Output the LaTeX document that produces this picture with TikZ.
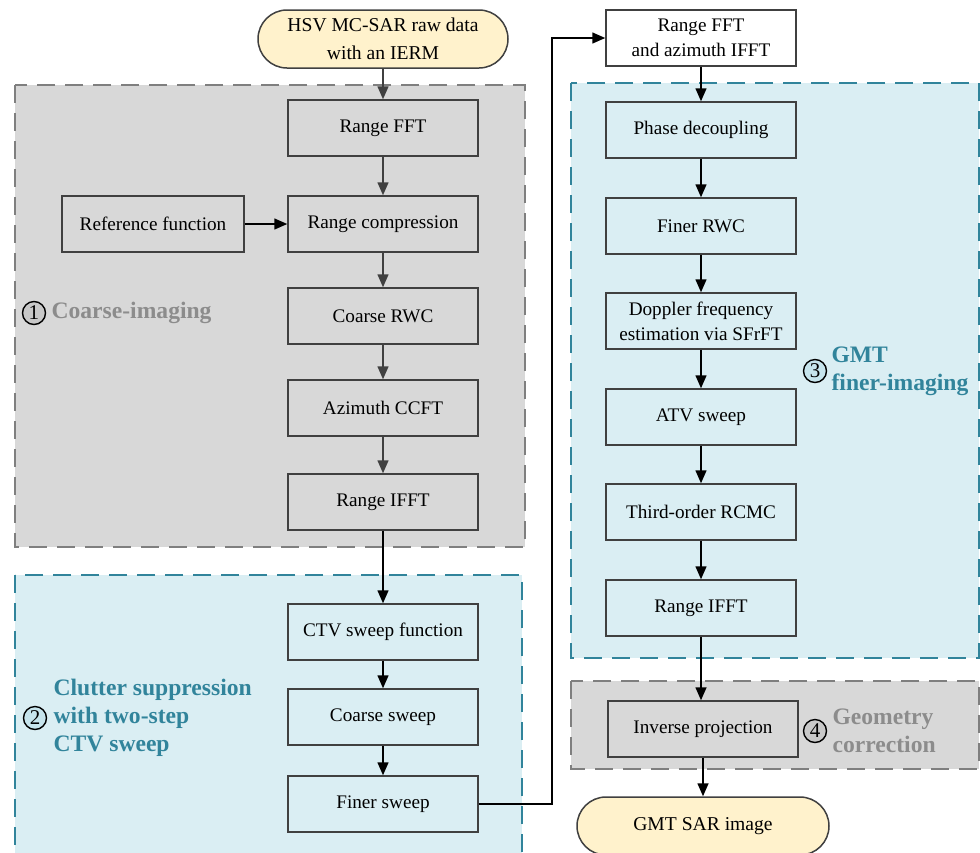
\documentclass[tikz,border=0pt]{standalone}
\usepackage{fontspec}
\setmainfont{Liberation Serif}
\usetikzlibrary{arrows.meta,positioning}

\definecolor{graybg}{HTML}{D8D8D8}
\definecolor{grayline}{HTML}{7F7F7F}
\definecolor{bluebg}{HTML}{DAEEF3}
\definecolor{blueline}{HTML}{31849B}
\definecolor{termfill}{HTML}{FFF2CC}
\definecolor{boxline}{HTML}{404040}
\definecolor{graytext}{HTML}{8C8C8C}
\definecolor{circgray}{HTML}{C8C8C8}
\definecolor{circblue}{HTML}{C6E4EC}

\tikzset{
	stepbox/.style={rectangle, draw=boxline, line width=0.75pt, minimum width=95pt, minimum height=28pt, inner sep=2pt, align=center, font=\fontsize{9.6}{12.6}\selectfont},
	terminal/.style={rectangle, rounded corners=14.5pt, draw=boxline, line width=0.75pt, fill=termfill, minimum height=29pt, align=center, font=\fontsize{9.8}{14}\selectfont},
	graygroup/.style={fill=graybg, draw=grayline, line width=1pt, dash pattern=on 9pt off 5pt},
	bluegroup/.style={fill=bluebg, draw=blueline, line width=1pt, dash pattern=on 9pt off 5pt},
	numcirc/.style={circle, draw=black, line width=0.7pt, inner sep=0pt, minimum size=11.5pt, font=\fontsize{10.5}{10.5}\selectfont},
	grouplabel/.style={align=left, inner sep=0pt, font=\bfseries\fontsize{11.8}{14}\selectfont},
	flow/.style={-{Triangle[length=6.5pt,width=5.5pt]}, line width=0.75pt},
}

\begin{document}
\begin{tikzpicture}[x=0.5pt,y=-0.5pt]
	\clip (0,0) rectangle (980,852);
	\fill[white] (0,0) rectangle (980,852);

	% dashed regions
	\path[graygroup]	(15,85) 	rectangle (525,547);
	\path[bluegroup]	(15,575) 	rectangle (522,880);
	\path[bluegroup]	(571,83) 	rectangle (979,658);
	\path[graygroup]	(571,681) 	rectangle (979,769);

	% left column
	\node 	(start)		at	(383,39) 	[terminal, minimum width=125pt]{HSV MC-SAR raw data\\with an IERM};
	\node 	(rfft)		at	(383,128) 	[stepbox, fill=graybg]{Range FFT};
	\node 	(rcomp)		at	(383,224) 	[stepbox, fill=graybg]{Range compression};
	\node 	(reffun)	at	(153,224) 	[stepbox, fill=graybg, minimum width=91pt]{Reference function};
	\node 	(crwc)		at	(383,316) 	[stepbox, fill=graybg]{Coarse RWC};
	\node 	(ccft)		at	(383,408) 	[stepbox, fill=graybg]{Azimuth CCFT};
	\node 	(rifft)		at	(383,502) 	[stepbox, fill=graybg]{Range IFFT};

	\node 	(ctvfun)	at	(383,632) 	[stepbox, fill=bluebg]{CTV sweep function};
	\node 	(csweep)	at	(383,717) 	[stepbox, fill=bluebg]{Coarse sweep};
	\node 	(fsweep)	at	(383,804) 	[stepbox, fill=bluebg]{Finer sweep};

	% right column
	\node 	(rfft2)		at	(701,38) 	[stepbox, fill=white]{Range FFT\\and azimuth IFFT};
	\node 	(phase)		at	(701,130) 	[stepbox, fill=bluebg]{Phase decoupling};
	\node 	(frwc)		at	(701,226) 	[stepbox, fill=bluebg]{Finer RWC};
	\node 	(doppler)	at	(701,321) 	[stepbox, fill=bluebg]{Doppler frequency\\estimation via SFrFT};
	\node 	(atv)		at	(701,417) 	[stepbox, fill=bluebg]{ATV sweep};
	\node 	(rcmc)		at	(701,512) 	[stepbox, fill=bluebg]{Third-order RCMC};
	\node 	(rifft2)	at	(701,608) 	[stepbox, fill=bluebg]{Range IFFT};
	\node 	(invproj)	at	(703,729) 	[stepbox, fill=graybg]{Inverse projection};
	\node 	(final)		at	(703,826) 	[terminal, minimum width=126pt]{GMT SAR image};

	% region labels
	\node 	(n1)	at	(34,313) 	[numcirc, fill=circgray]{1};
	\node 	(l1)	[grouplabel, text=graytext, right=2.5pt of n1]{Coarse-imaging};
	\node 	(n2)	at	(35,718) 	[numcirc, fill=circblue]{2};
	\node 	(l2)	[grouplabel, text=blueline, right=3pt of n2]{Clutter suppression\\with two-step\\CTV sweep};
	\node 	(n3)	at	(815,371) 	[numcirc, fill=circblue]{3};
	\node 	(l3)	[grouplabel, text=blueline, right=2pt of n3]{GMT\\finer-imaging};
	\node 	(n4)	at	(815,731) 	[numcirc, fill=circgray]{4};
	\node 	(l4)	[grouplabel, text=graytext, right=2.5pt of n4]{Geometry\\correction};

	% connectors
	\draw[flow, boxline] (start) to (rfft);
	\draw[flow, boxline] (rfft) to (rcomp);
	\draw[flow, black] (reffun) to (rcomp);
	\draw[flow, boxline] (rcomp) to (crwc);
	\draw[flow, boxline] (crwc) to (ccft);
	\draw[flow, boxline] (ccft) to (rifft);
	\draw[flow] (rifft) to (ctvfun);
	\draw[flow] (ctvfun) to (csweep);
	\draw[flow] (csweep) to (fsweep);
	\draw[flow] (fsweep.east) -- ++(73,0) |- (rfft2.west);
	\draw[flow] (rfft2) to (phase);
	\draw[flow] (phase) to (frwc);
	\draw[flow] (frwc) to (doppler);
	\draw[flow] (doppler) to (atv);
	\draw[flow] (atv) to (rcmc);
	\draw[flow] (rcmc) to (rifft2);
	\draw[flow] (rifft2.south) -- (rifft2.south |- invproj.north);
	\draw[flow] (invproj) to (final);

\end{tikzpicture}
\end{document}
